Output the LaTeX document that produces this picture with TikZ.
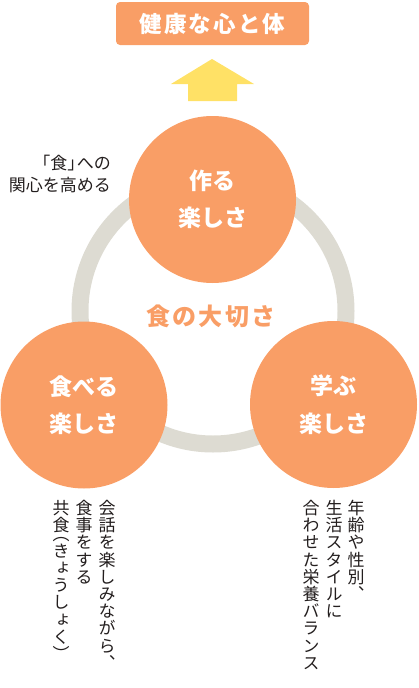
\documentclass[tikz,border=0pt]{standalone}
\usepackage{fontspec}
\setmainfont{Noto Sans CJK JP}
\newfontfamily\tatefont[RawFeature=+vert]{Noto Sans CJK JP}
\usepackage{xcolor}
\usetikzlibrary{positioning}
\definecolor{shokuorange}{RGB}{249,158,102}
\definecolor{wakugray}{RGB}{221,219,210}
\definecolor{yajikiiro}{RGB}{255,225,102}
\definecolor{sumiiro}{RGB}{35,30,30}

\begin{document}
\begin{tikzpicture}[
    x=1pt, y=-1pt,
    maru/.style={circle, fill=shokuorange, minimum size=167pt, inner sep=0pt,
                 align=center, text=white, font=\bfseries\fontsize{23}{37.5}\selectfont},
    tate/.style={anchor=north, align=center, inner sep=0pt, text=sumiiro,
                 font=\tatefont\fontsize{17}{17.2}\selectfont},
    midashi/.style={fill=shokuorange, rounded corners=4pt, minimum width=193pt,
                    minimum height=43pt, text=white,
                    font=\bfseries\fontsize{22.5}{26}\selectfont\addfontfeature{LetterSpace=9}}
  ]
    \useasboundingbox (0,0) rectangle (418,688);
    % 見出しと矢印
    \node[midashi] (kenko) at (212.5,23.5) {健康な心と体};
    \fill[yajikiiro] (212,59) -- (254,84) -- (237,84) -- (237,101) -- (188,101)
      -- (188,84) -- (171,84) -- cycle;
    % 輪と三つの円
    \draw[wakugray, line width=17pt] (213,311) circle (133);
    \node[text=shokuorange, font=\bfseries\fontsize{24}{28}\selectfont\addfontfeature{LetterSpace=10}]
      (taisetsu) at (211,316) {食の大切さ};
    \node[maru] (tsukuru) at (212.5,199.5) {作る\\楽しさ};
    \node[maru] (taberu) at (84,405) {食べる\\楽しさ};
    \node[maru] (manabu) at (333.5,404.5) {学ぶ\\楽しさ};
    \node[anchor=north east, align=right, inner sep=0pt, text=sumiiro,
          font=\fontsize{17}{22}\selectfont] (kanshin) at (111,155)
      {「食」\kern-0.45em への\\関心を高める};
    % 縦書きの説明（括弧は半角ぶん詰める）
    \node[tate] (kaiwa) at (107,500) {会\\話\\を\\楽\\し\\み\\な\\が\\ら\\、};
    \node[tate] (shokuji) at ([xshift=-23pt]kaiwa.north) {食\\事\\を\\す\\る};
    \node[tate] (kyoshoku) at ([xshift=-23pt]shokuji.north)
      {共\\食\\[-8.6pt]（\\き\\ょ\\う\\し\\ょ\\く\\）};
    \node[tate] (nenrei) at (356,500) {年\\齢\\や\\性\\別\\、};
    \node[tate] (seikatsu) at ([xshift=-22pt]nenrei.north) {生\\活\\ス\\タ\\イ\\ル\\に};
    \node[tate] (eiyo) at ([xshift=-23pt]seikatsu.north) {合\\わ\\せ\\た\\栄\\養\\バ\\ラ\\ン\\ス};
  \end{tikzpicture}
\end{document}
